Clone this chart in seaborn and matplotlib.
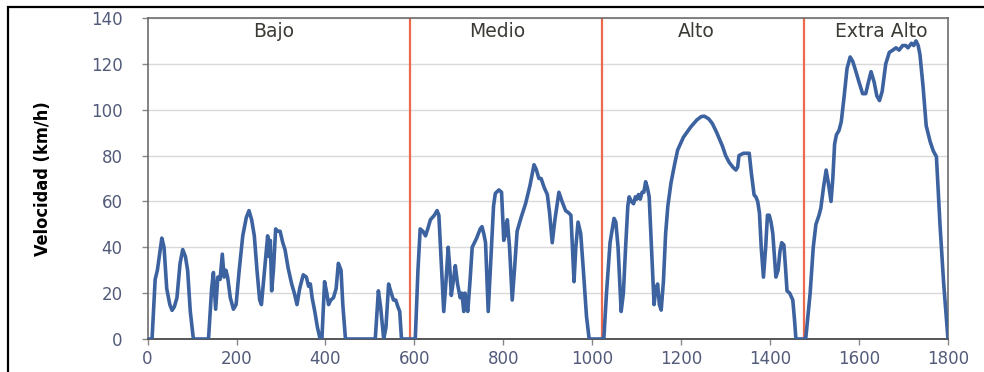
import matplotlib
matplotlib.use("Agg")
import matplotlib.pyplot as plt
import matplotlib.patches as mpatches
import numpy as np
import pandas as pd
import seaborn as sns

# WLTC speed trace, sampled at its turning points (time in s, speed in km/h)
t_bajo = [0, 10, 17, 22, 32, 37, 43, 50, 55, 60, 66, 73, 79, 85, 90, 96, 103, 137, 144, 148,
          153, 158, 163, 168, 172, 176, 180, 186, 193, 199, 206, 214, 222, 228, 234, 240, 246,
          252, 256, 262, 270, 273, 276, 279, 283, 288, 293, 298, 304, 309, 316, 324, 330, 336,
          342, 350, 357, 362, 366, 370, 376, 382, 388, 392, 398, 403, 407, 412, 418, 424, 429,
          435, 439, 445, 512, 519, 524, 531, 536, 542, 548, 553, 558, 563, 567, 571, 598]
v_bajo = [0, 0, 26, 30, 44, 40, 22, 15, 12.5, 14, 18, 33, 39, 36, 30, 12, 0, 0, 22, 29,
          13, 27, 26, 37, 27, 30, 27, 18, 13, 15, 30, 45, 53, 56, 52, 45, 30,
          17, 15, 28, 45, 36, 43, 21, 30, 48, 47, 47, 42, 39, 31, 24, 20, 15,
          22, 28, 27, 23, 24, 18, 12, 5, 0, 0, 25, 20, 15, 17, 18, 22, 33,
          30, 15, 0, 0, 21, 14, 0, 5, 24, 20, 17, 17, 14, 12, 0, 0]

t_medio = [602, 608, 613, 619, 625, 630, 636, 645, 651, 655, 660, 666, 671, 676, 680, 683, 688,
           692, 697, 703, 707, 711, 714, 717, 720, 725, 730, 740, 748, 752, 756, 760, 766, 772,
           778, 782, 790, 796, 801, 804, 807, 809, 814, 820, 825, 831, 840, 850, 860, 869, 874,
           880, 885, 892, 899, 904, 910, 916, 925, 932, 940, 947, 952, 959, 963, 968, 974, 980,
           987, 993, 1020]
v_medio = [0, 30, 48, 47, 45, 48, 52, 54, 56, 54, 35, 12, 25, 40, 30, 19, 26,
           32, 24, 18, 20, 12, 20, 15, 12, 25, 40, 44, 48, 49, 46, 42, 12, 35,
           58, 63.5, 65, 64, 43, 50, 45, 52, 40, 17, 30, 47, 53, 59, 67, 76, 74,
           70, 70, 66, 63, 55, 42, 52, 64, 60, 56, 55, 54, 25, 40, 51, 46, 30,
           10, 0, 0]

t_alto = [1026, 1032, 1040, 1049, 1053, 1058, 1065, 1070, 1075, 1080, 1083, 1088, 1093, 1097,
          1100, 1104, 1108, 1112, 1116, 1120, 1124, 1128, 1132, 1139, 1143, 1147, 1151, 1155,
          1160, 1165, 1170, 1177, 1185, 1192, 1205, 1222, 1235, 1245, 1252, 1262, 1270, 1280,
          1293, 1300, 1308, 1316, 1323, 1327, 1330, 1340, 1353, 1358, 1364, 1368, 1372, 1376,
          1380, 1385, 1390, 1394, 1398, 1402, 1406, 1410, 1413, 1418, 1422, 1426, 1431, 1435,
          1438, 1444, 1451, 1455, 1458, 1480]
v_alto = [0, 20, 42, 52.6, 51, 40, 12, 20, 40, 58, 62, 60, 59, 62,
          61, 63, 61, 64, 64, 68.6, 66, 62, 45, 15, 22, 24, 15, 12.6,
          25, 46, 58, 68, 76, 82.4, 88, 92.6, 95.5, 97, 97.2, 96, 94, 90,
          84, 80, 77, 75, 73.7, 75, 80, 81, 81, 72, 62.8, 62, 60, 55,
          40, 27, 40, 54, 54, 51, 46, 35, 27, 30, 38, 42, 41, 30,
          21, 20, 17, 8, 0, 0]

t_extra = [1490, 1497, 1503, 1510, 1514, 1520, 1526, 1531, 1537, 1541, 1545, 1549, 1555, 1560,
           1566, 1573, 1580, 1586, 1593, 1600, 1608, 1615, 1621, 1627, 1634, 1640, 1646, 1652,
           1660, 1668, 1676, 1683, 1690, 1698, 1705, 1710, 1718, 1723, 1728, 1733, 1737, 1744,
           1751, 1760, 1767, 1774, 1782, 1790, 1800]
v_extra = [20, 40, 50, 54, 57, 66, 73.7, 68, 60, 70, 85, 89, 91, 94.8,
           105, 118, 123, 121, 116.6, 112, 107, 107, 112, 116.6, 112, 106, 104, 108,
           120, 125, 126, 127, 126, 128, 128, 127, 129, 128, 130, 128, 124, 110,
           93, 86, 82, 79.5, 50, 25, 0]

phase_bounds = [589, 1022, 1477]
phase_names = ["Bajo", "Medio", "Alto", "Extra Alto"]
phase_label_x = [283, 787, 1233, 1650]

x_ticks = [0, 200, 400, 600, 800, 1000, 1200, 1400, 1600, 1800]
y_ticks = [0, 20, 40, 60, 80, 100, 120, 140]

df = pd.DataFrame({
    "t": t_bajo + t_medio + t_alto + t_extra,
    "v": v_bajo + v_medio + v_alto + v_extra,
})

sns.set_theme(style="white")
plt.rcParams["font.family"] = ["DejaVu Sans"]

fig = plt.figure(figsize=(9.84, 3.72), dpi=100)
ax = fig.add_axes([0.15, 0.0887, 0.8134, 0.8629])

ax.set_xlim(0, 1800)
ax.set_ylim(0, 140)
ax.set_yticks(y_ticks)
ax.set_xticks(x_ticks)
ax.yaxis.grid(True, color="#d9d9d9", linewidth=1.0)
ax.set_axisbelow(True)

for b in phase_bounds:
    ax.axvline(b, color="#ec6a4c", linewidth=1.6, zorder=2)

sns.lineplot(data=df, x="t", y="v", estimator=None, sort=False, ax=ax,
             color="#3c62a0", linewidth=2.6, zorder=3)

for name, xp in zip(phase_names, phase_label_x):
    ax.text(xp, 134, name, ha="center", va="center", fontsize=13.5,
            color="#3b3a34", zorder=4)

ax.set_xlabel("")
ax.set_ylabel("Velocidad (km/h)", fontsize=13, fontweight="bold", color="black",
              fontstretch="condensed", labelpad=28)

tick_color = "#535b7a"
ax.tick_params(axis="x", which="major", bottom=True, length=4, width=1,
               color="#888888", labelsize=12, labelcolor=tick_color, pad=4)
ax.tick_params(axis="y", which="major", left=True, length=4, width=1,
               color="#888888", labelsize=12, labelcolor=tick_color, pad=14)

for side in ["left", "top", "right"]:
    ax.spines[side].set_color("#6d6d6d")
    ax.spines[side].set_linewidth(1.2)
ax.spines["bottom"].set_color("#555555")
ax.spines["bottom"].set_linewidth(1.4)

# outer frame around the figure
frame = mpatches.Rectangle((0.008, -0.05), 1.2, 0.981 + 0.05, transform=fig.transFigure,
                           fill=False, edgecolor="black", linewidth=1.6)
fig.add_artist(frame)

fig.savefig("out.png", dpi=100)
